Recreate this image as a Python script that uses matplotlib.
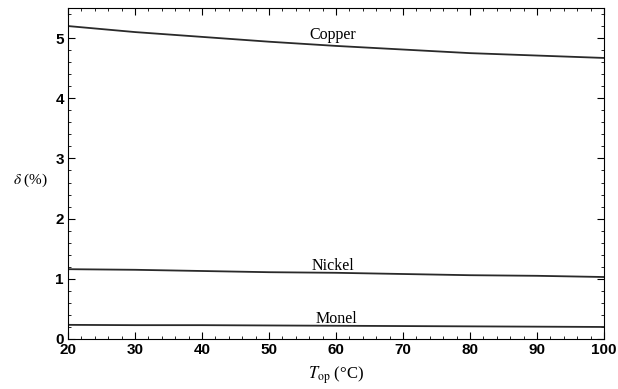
import matplotlib.pyplot as plt
import numpy as np
from matplotlib.ticker import MultipleLocator

plt.rcParams['mathtext.fontset'] = 'stix'

# operating temperature (C) and delta (%) for each metal
t_op = [20, 30, 40, 50, 60, 70, 80, 90, 100]
copper = [5.20, 5.10, 5.02, 4.94, 4.87, 4.81, 4.75, 4.71, 4.67]
nickel = [1.16, 1.15, 1.13, 1.11, 1.10, 1.08, 1.06, 1.05, 1.03]
monel = [0.235, 0.23, 0.23, 0.225, 0.22, 0.215, 0.21, 0.205, 0.20]

fig = plt.figure(figsize=(6.18, 3.89), dpi=100)
ax = fig.add_axes([68/618, 1 - 339/389, 536/618, 331/389])

for y in (copper, nickel, monel):
    ax.plot(t_op, y, color='#2a2a2a', lw=1.3)

serif = dict(family='Liberation Serif', fontsize=11.5)
ax.text(59.5, 4.98, 'Copper', ha='center', va='baseline', **serif)
ax.text(59.6, 1.15, 'Nickel', ha='center', va='baseline', **serif)
ax.text(60, 0.27, 'Monel', ha='center', va='baseline', **serif)

ax.set_xlim(20, 100)
ax.set_ylim(0, 5.5)
ax.xaxis.set_major_locator(MultipleLocator(10))
ax.xaxis.set_minor_locator(MultipleLocator(2))
ax.yaxis.set_major_locator(MultipleLocator(1))
ax.yaxis.set_minor_locator(MultipleLocator(0.2))
ax.tick_params(which='both', direction='in', top=True, right=True)
ax.tick_params(which='major', length=5, labelsize=11, pad=3)
ax.tick_params(which='minor', length=2.5)
for lab in ax.get_xticklabels() + ax.get_yticklabels():
    lab.set_family('Liberation Sans')
    lab.set_fontweight('bold')

ax.set_xlabel(r'$T_{\rm op}$ (°C)', fontsize=12, family='Liberation Serif', labelpad=5)
ax.set_ylabel(r'$\delta$ (%)', fontsize=11, family='Liberation Serif', rotation=0,
              ha='center', va='center')
ax.yaxis.set_label_coords(-0.07, 0.48)

fig.savefig('out.png', dpi=100)
